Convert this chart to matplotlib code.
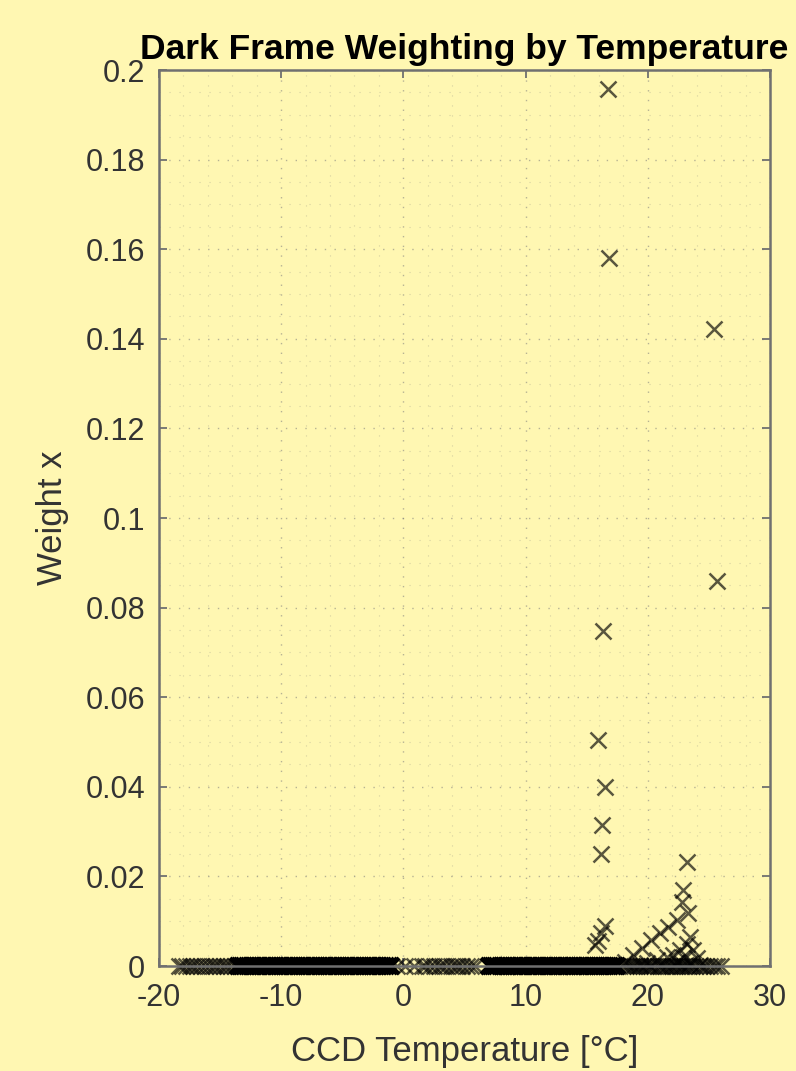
import matplotlib

matplotlib.use("Agg")

import matplotlib.pyplot as plt
from matplotlib.ticker import MultipleLocator

# frames with zero weight, read left to right along the bottom row
zero_temps_cold_sparse = [-18.4, -18.1, -17.8, -17.5, -17.2, -16.9, -16.6, -16.2, -15.9,
                          -15.6, -15.3, -15.0, -14.7, -14.4, -14.1, -13.8]
zero_temps_cold_dense = [-13.55, -13.4, -13.2, -13.05, -12.8, -12.65, -12.4, -12.25, -12.0,
                         -11.85, -11.6, -11.4, -11.25, -11.0, -10.8, -10.65, -10.4, -10.2,
                         -10.05, -9.8, -9.6, -9.45, -9.2, -9.0, -8.85, -8.6, -8.4, -8.25,
                         -8.0, -7.8, -7.65, -7.4, -7.2, -7.05, -6.8, -6.6, -6.45, -6.2,
                         -6.0, -5.85, -5.6, -5.4, -5.25, -5.0, -4.8, -4.65, -4.4, -4.2,
                         -4.05, -3.8, -3.6, -3.45, -3.2, -3.0, -2.85, -2.6, -2.4, -2.25,
                         -2.0, -1.8, -1.65, -1.4, -1.2, -1.0]
zero_temps_zero = [-0.55, 0.1, 0.9]
zero_temps_mild = [1.5, 1.8, 2.2, 2.5, 2.9, 3.2, 3.5, 3.9, 4.2, 4.5, 4.8, 5.2, 5.5, 5.9]
zero_temps_warm = [7.0, 7.15, 7.35, 7.5, 7.7, 7.9, 8.05, 8.25, 8.45, 8.6, 8.8, 9.0, 9.15,
                   9.35, 9.55, 9.7, 9.9, 10.1, 10.3, 10.5, 10.7, 10.85, 11.05, 11.25, 11.45,
                   11.6, 11.8, 12.0, 12.2, 12.35, 12.55, 12.75, 12.9, 13.1, 13.3, 13.45,
                   13.65, 13.85, 14.0, 14.2, 14.4, 14.55, 14.75, 14.95, 15.1, 15.3, 15.5,
                   15.65, 15.85, 16.05, 16.2, 16.4, 16.6, 16.75, 16.95, 17.15, 17.3, 17.5]
zero_temps_hot = [18.0, 18.2, 18.45, 18.7, 18.9, 19.15, 19.4, 19.6, 19.85, 20.1, 20.3, 20.55,
                  20.8, 21.0, 21.2, 21.4, 21.6, 21.8, 22.0, 22.2, 22.4, 22.6, 22.8, 23.0,
                  23.2, 23.4, 23.6, 23.9, 24.2, 24.5, 24.8, 25.1, 25.4, 25.7, 26.0]

# frames with a non-zero weight
pos_temps = [16.74, 16.82, 25.42, 25.66, 16.33, 15.92, 16.50, 16.25, 16.17, 23.20,
             16.50, 16.20, 15.90, 15.70,
             22.90, 22.77, 23.30, 22.37, 21.68, 21.00, 20.30, 19.50, 18.80, 18.10,
             23.45, 23.20, 23.70, 22.60, 22.10, 21.56, 22.90, 24.00, 20.73, 22.37,
             19.90, 23.45, 24.30, 19.40]
pos_weights = [0.1958, 0.1580, 0.1422, 0.0859, 0.0748, 0.0504, 0.0400, 0.0315, 0.0250, 0.0232,
               0.0090, 0.0074, 0.0057, 0.0047,
               0.0170, 0.0144, 0.0118, 0.0103, 0.0088, 0.0073, 0.0058, 0.0040, 0.0025, 0.0010,
               0.0065, 0.0050, 0.0036, 0.0036, 0.0025, 0.0021, 0.0021, 0.0017, 0.0013, 0.0010,
               0.0006, 0.0007, 0.0003, 0.0003]

sparse_zero = zero_temps_cold_sparse + zero_temps_zero + zero_temps_mild + zero_temps_hot
dense_zero = zero_temps_cold_dense + zero_temps_warm

bg = "#fff7b2"
axis_col = "#707070"
text_col = "#333333"

plt.rcParams["font.family"] = ["Liberation Sans", "DejaVu Sans"]
plt.rcParams["axes.unicode_minus"] = False

fig = plt.figure(figsize=(7.96, 10.71), dpi=100, facecolor=bg)
ax = fig.add_axes([0.1997, 0.098, 0.7676, 0.8366])
ax.set_facecolor(bg)

mk = dict(linestyle="none", marker="x", markersize=12, clip_on=False)
ax.plot(dense_zero, [0.0] * len(dense_zero), color="black", alpha=1.0,
        markeredgewidth=3.0, **mk)
ax.plot(sparse_zero, [0.0] * len(sparse_zero), color="black", alpha=0.65,
        markeredgewidth=1.8, **mk)
ax.plot(pos_temps, pos_weights, color="black", alpha=0.65, markeredgewidth=1.8, **mk)

ax.set_xlim(-20, 30)
ax.set_ylim(0, 0.2)
ax.xaxis.set_major_locator(MultipleLocator(10))
ax.xaxis.set_minor_locator(MultipleLocator(2))
ax.yaxis.set_minor_locator(MultipleLocator(0.005))
ax.set_yticks([0, 0.02, 0.04, 0.06, 0.08, 0.1, 0.12, 0.14, 0.16, 0.18, 0.2])
ax.set_yticklabels(["0", "0.02", "0.04", "0.06", "0.08", "0.1", "0.12", "0.14",
                    "0.16", "0.18", "0.2"])

ax.grid(True, which="major", color="#7a7a7a", linestyle=(0, (1, 6)), linewidth=1.0, alpha=0.55)
ax.grid(True, which="minor", color="#7a7a7a", linestyle=(0, (1, 8)), linewidth=0.8, alpha=0.3)
ax.set_axisbelow(True)

for side in ["left", "right", "top", "bottom"]:
    ax.spines[side].set_color(axis_col)
    ax.spines[side].set_linewidth(1.8)

ax.tick_params(which="major", direction="in", length=6, width=1.3, color=axis_col,
               top=True, right=True, labelsize=22, labelcolor=text_col)
ax.tick_params(axis="x", which="major", pad=12)
ax.tick_params(axis="y", which="major", pad=10)
ax.tick_params(which="minor", length=0)

ax.set_xlabel("CCD Temperature [°C]", fontsize=25, color=text_col, labelpad=16)
ax.set_ylabel("Weight x", fontsize=25, color=text_col, labelpad=12)
ax.set_title("Dark Frame Weighting by Temperature", fontsize=25.5, fontweight="bold",
             color="black", pad=8)

fig.savefig("out.png", dpi=100, facecolor=bg)
plt.close(fig)
